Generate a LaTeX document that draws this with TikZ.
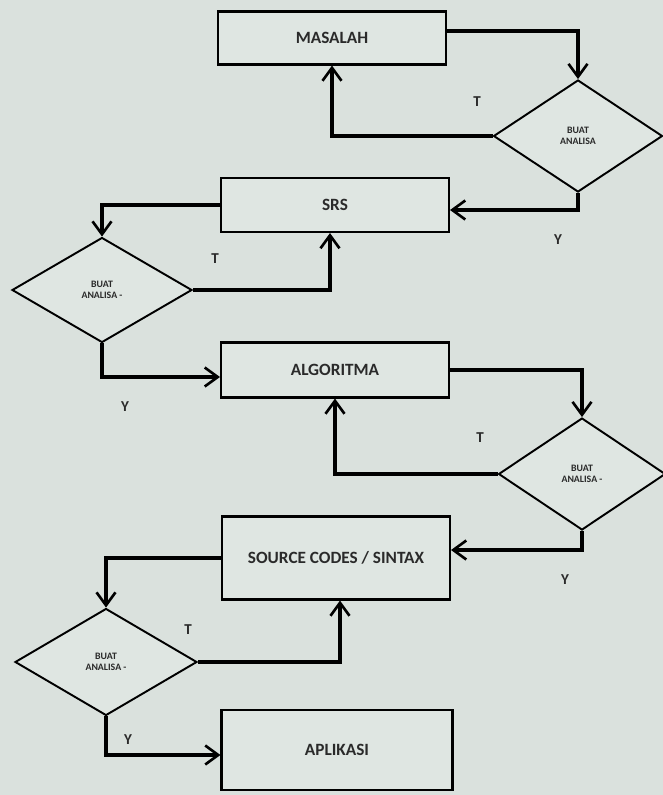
\documentclass[tikz,border=0pt]{standalone}
\usepackage{fontspec}
\setmainfont{Carlito}
\usetikzlibrary{arrows.meta,positioning,shapes.geometric}
\definecolor{paperbg}{HTML}{DAE1DD}
\definecolor{boxfill}{HTML}{DFE6E2}
\definecolor{inkgray}{HTML}{2A2A2A}
\tikzset{
  process/.style={draw=black,line width=1.2pt,fill=boxfill,align=center,minimum width=4.56cm,minimum height=1.06cm,text=inkgray,font=\fontsize{9.8}{11}\selectfont\bfseries},
  decision/.style={diamond,draw=black,line width=1.1pt,fill=boxfill,align=center,inner sep=0pt,text=inkgray,font=\fontsize{5.6}{6.2}\selectfont\bfseries},
  flow/.style={-{Straight Barb[length=2.6mm,width=3.8mm,line width=1.5pt]},line width=1.9pt},
  answer/.style={text=inkgray,font=\fontsize{8.6}{9}\selectfont\bfseries},
}

\begin{document}
\begin{tikzpicture}[x=0.02cm,y=-0.02cm]
    \fill[paperbg] (0,0) rectangle (663,795);
    \useasboundingbox (0,0) rectangle (663,795);
    % boxes
    \node[process] (masalah) at (332,38) {MASALAH};
    \node[process,minimum height=1.08cm] (srs) at (335,205) {SRS};
    \node[process,minimum height=1.1cm] (algo) at (335,370) {ALGORITMA};
    \node[process,minimum height=1.66cm] (src) at (336,558) {SOURCE CODES / SINTAX};
    \node[process,minimum height=1.6cm,minimum width=4.62cm] (apl) at (337,750) {APLIKASI};
    % decisions
    \node[decision,minimum width=3.38cm,minimum height=2.24cm] (d1) at (578,136) {BUAT\\ANALISA};
    \node[decision,minimum width=3.6cm,minimum height=2.1cm] (d2) at (102,290) {BUAT\\ANALISA -};
    \node[decision,minimum width=3.34cm,minimum height=2.24cm] (d3) at (582,474) {BUAT\\ANALISA -};
    \node[decision,minimum width=3.64cm,minimum height=2.14cm] (d4) at (106,662) {BUAT\\ANALISA -};
    % answers
    \node[answer] (t1) at (477,102) {T};
    \node[answer] (y1) at (558,240) {Y};
    \node[answer] (t2) at (215,259) {T};
    \node[answer] (y2) at (125,407) {Y};
    \node[answer] (t3) at (480,438) {T};
    \node[answer] (y3) at (565,580) {Y};
    \node[answer] (t4) at (188,630) {T};
    \node[answer] (y4) at (128,740) {Y};
    % connectors
    \draw[flow] ([yshift=0.14cm]masalah.east) -| (d1.north);
    \draw[flow] (d1.west) -| (masalah.south);
    \draw[flow] (d1.south) |- ([yshift=-0.1cm]srs.east);
    \draw[flow] (srs.west) -| (d2.north);
    \draw[flow] (d2.east) -| ([xshift=-0.1cm]srs.south);
    \draw[flow] (d2.south) |- ([yshift=-0.14cm]algo.west);
    \draw[flow] (algo.east) -| (d3.north);
    \draw[flow] (d3.west) -| (algo.south);
    \draw[flow] (d3.south) |- ([yshift=0.16cm]src.east);
    \draw[flow] (src.west) -| (d4.north);
    \draw[flow] (d4.east) -| ([xshift=0.08cm]src.south);
    \draw[flow] (d4.south) |- ([yshift=-0.1cm]apl.west);
\end{tikzpicture}
\end{document}
